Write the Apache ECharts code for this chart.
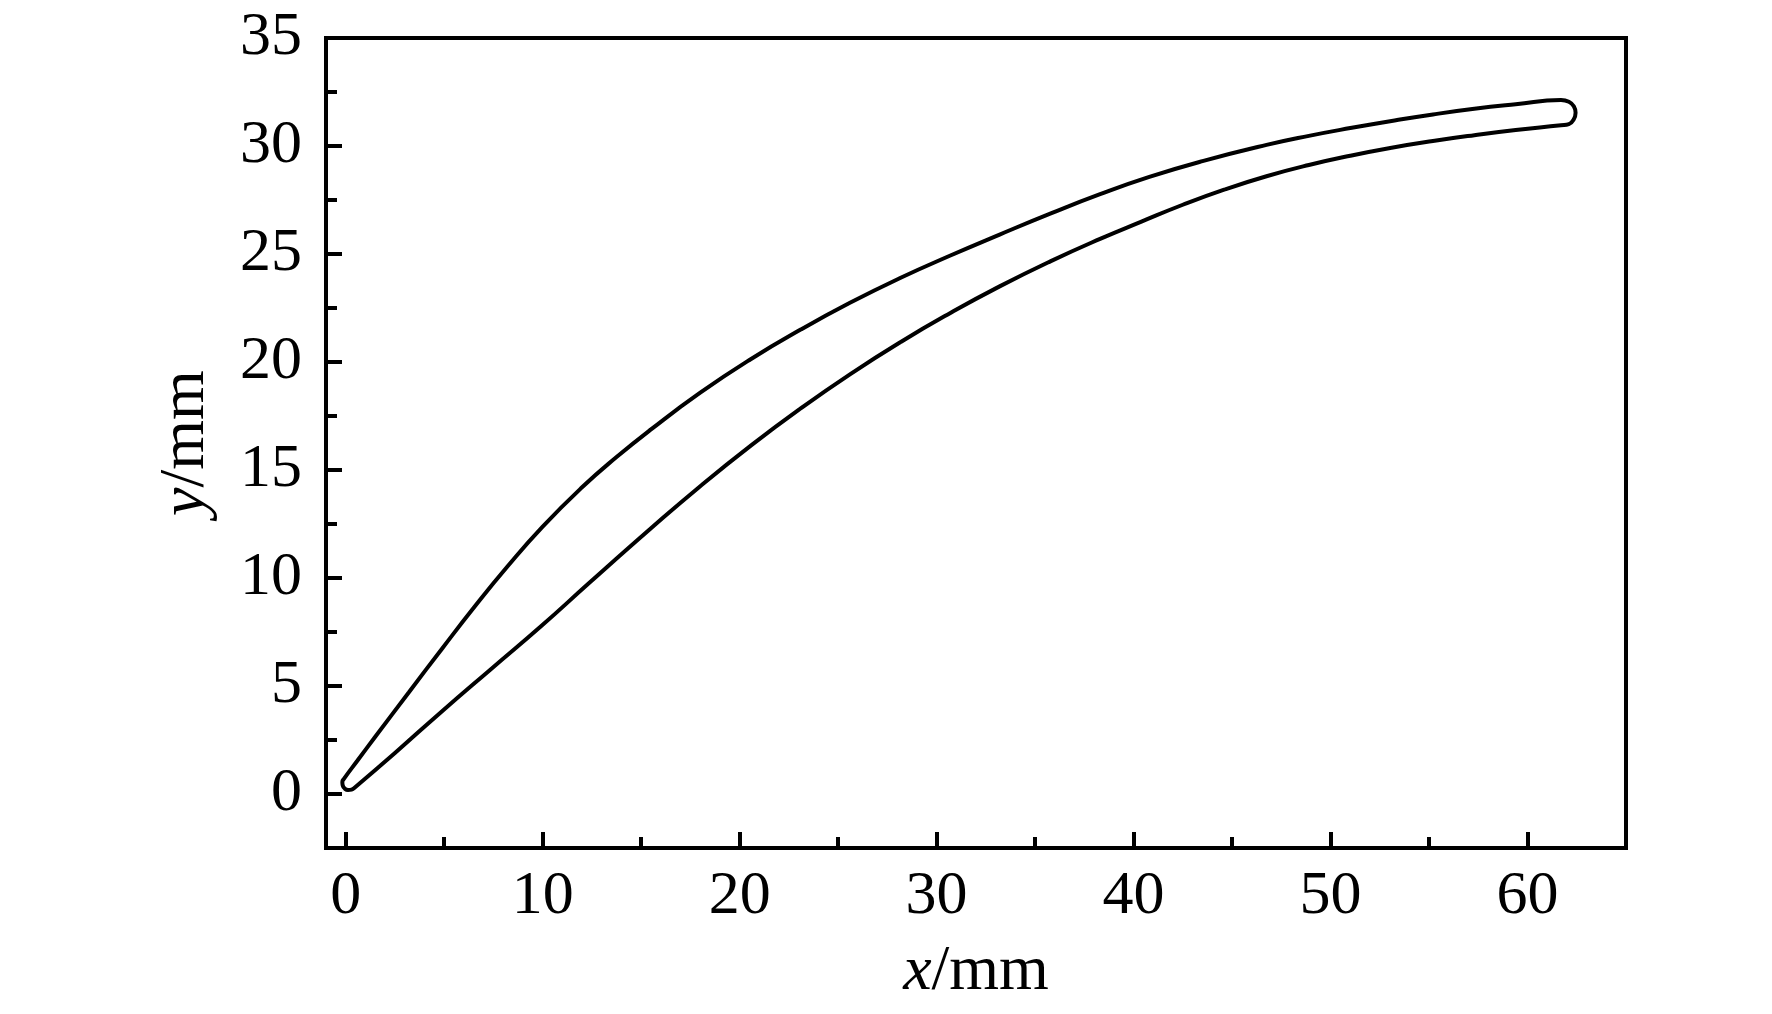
<!DOCTYPE html>
<html>
<head>
<meta charset="utf-8">
<title>blade profile</title>
<script src="https://cdn.jsdelivr.net/npm/echarts@6/dist/echarts.min.js"></script>
<style>
    html, body { margin: 0; padding: 0; background: #fff; }
    #chart1 { width: 1772px; height: 1014px; }
</style>
</head>
<body>
<div id="chart1"></div>
<script>
// blade outline (x/mm, y/mm)
var pressureSide = [[0.42, 0.27], [2.5, 1.9], [4.85, 3.8], [7.4, 5.8], [9.9, 7.75], [12.4, 9.8],
    [15.5, 12.3], [18.0, 14.25], [20.6, 16.15], [23.1, 17.85], [25.6, 19.43], [28.2, 20.94],
    [30.7, 22.27], [33.2, 23.5], [35.8, 24.67], [38.3, 25.7], [40.4, 26.5], [42.5, 27.28],
    [44.6, 27.98], [46.75, 28.6], [48.9, 29.12], [51.0, 29.55], [53.1, 29.92], [55.2, 30.23],
    [57.3, 30.5], [59.4, 30.74], [61.7, 30.96]];
var trailingEdge = [[62.1, 31.01], [62.35, 31.24], [62.44, 31.54], [62.35, 31.84], [62.1, 32.05]];
var suctionSide = [[61.7, 32.13], [59.4, 31.93], [57.3, 31.72], [55.2, 31.46], [53.1, 31.16],
    [51.0, 30.83], [48.9, 30.47], [46.75, 30.05], [43.5, 29.3], [40.8, 28.57], [38.3, 27.77],
    [35.8, 26.88], [33.2, 25.9], [30.7, 24.93], [28.15, 23.89], [25.6, 22.74], [23.1, 21.5],
    [20.56, 20.13], [18.0, 18.58], [15.5, 16.88], [13.75, 15.6], [12.0, 14.2], [10.0, 12.38],
    [8.2, 10.52], [6.55, 8.68], [4.9, 6.74], [3.2, 4.7], [1.5, 2.65], [0.6, 1.55], [-0.10, 0.69]];
var leadingEdge = [[-0.17, 0.56], [-0.15, 0.39], [-0.05, 0.25], [0.12, 0.18], [0.30, 0.20]];

// tick positions
var xMajor = [0, 10, 20, 30, 40, 50, 60];
var xMinor = [5, 15, 25, 35, 45, 55];
var yMajor = [0, 5, 10, 15, 20, 25, 30, 35];
var yMinor = [2.5, 7.5, 12.5, 17.5, 22.5, 27.5, 32.5];

window.onload = function() {
    chart1();
}

function chart1() {
    var myChart = echarts.init(document.getElementById('chart1'));

    // one closed contour
    var outline = pressureSide.concat(trailingEdge, suctionSide, leadingEdge, [pressureSide[0]]);

    var font = '"Liberation Serif", "Times New Roman", Times, serif';
    var labelStyle = { color: '#000', fontFamily: font, fontSize: 62 };
    var nameStyle = {
        color: '#000', fontFamily: font, fontSize: 64,
        rich: { i: { fontFamily: font, fontSize: 64, fontStyle: 'italic', color: '#000' } }
    };

    var option = {
        animation: false,
        backgroundColor: '#fff',
        grid: {
            left: 326, right: 146, top: 38, bottom: 166,
            show: true,
            borderColor: '#000',
            borderWidth: 4
        },
        xAxis: [{
            type: 'value',
            min: -1, max: 65,
            name: '{i|x}/mm',
            nameLocation: 'middle',
            nameGap: 92,
            nameTextStyle: nameStyle,
            axisLine: { onZero: false, lineStyle: { color: '#000', width: 4 } },
            axisTick: { inside: true, length: 16, lineStyle: { width: 4, color: '#000' }, customValues: xMajor },
            axisLabel: Object.assign({ margin: 18, customValues: xMajor }, labelStyle),
            splitLine: { show: false }
        }, {
            type: 'value',
            min: -1, max: 65,
            position: 'bottom',
            axisLine: { show: false, onZero: false },
            axisTick: { inside: true, length: 11, lineStyle: { width: 4, color: '#000' }, customValues: xMinor },
            axisLabel: { show: false },
            splitLine: { show: false }
        }],
        yAxis: [{
            type: 'value',
            min: -2.5, max: 35,
            name: '{i|y}/mm',
            nameLocation: 'middle',
            nameRotate: 90,
            nameGap: 108,
            nameTextStyle: nameStyle,
            axisLine: { onZero: false, lineStyle: { color: '#000', width: 4 } },
            axisTick: { inside: true, length: 16, lineStyle: { width: 4, color: '#000' }, customValues: yMajor },
            axisLabel: Object.assign({ margin: 24, customValues: yMajor }, labelStyle),
            splitLine: { show: false }
        }, {
            type: 'value',
            min: -2.5, max: 35,
            position: 'left',
            axisLine: { show: false, onZero: false },
            axisTick: { inside: true, length: 11, lineStyle: { width: 4, color: '#000' }, customValues: yMinor },
            axisLabel: { show: false },
            splitLine: { show: false }
        }],
        series: [{
            name: 'blade',
            type: 'line',
            data: outline,
            smooth: 0.5,
            showSymbol: false,
            symbol: 'none',
            lineStyle: { color: '#000', width: 4 }
        }]
    };

    myChart.setOption(option);
}
</script>
</body>
</html>
